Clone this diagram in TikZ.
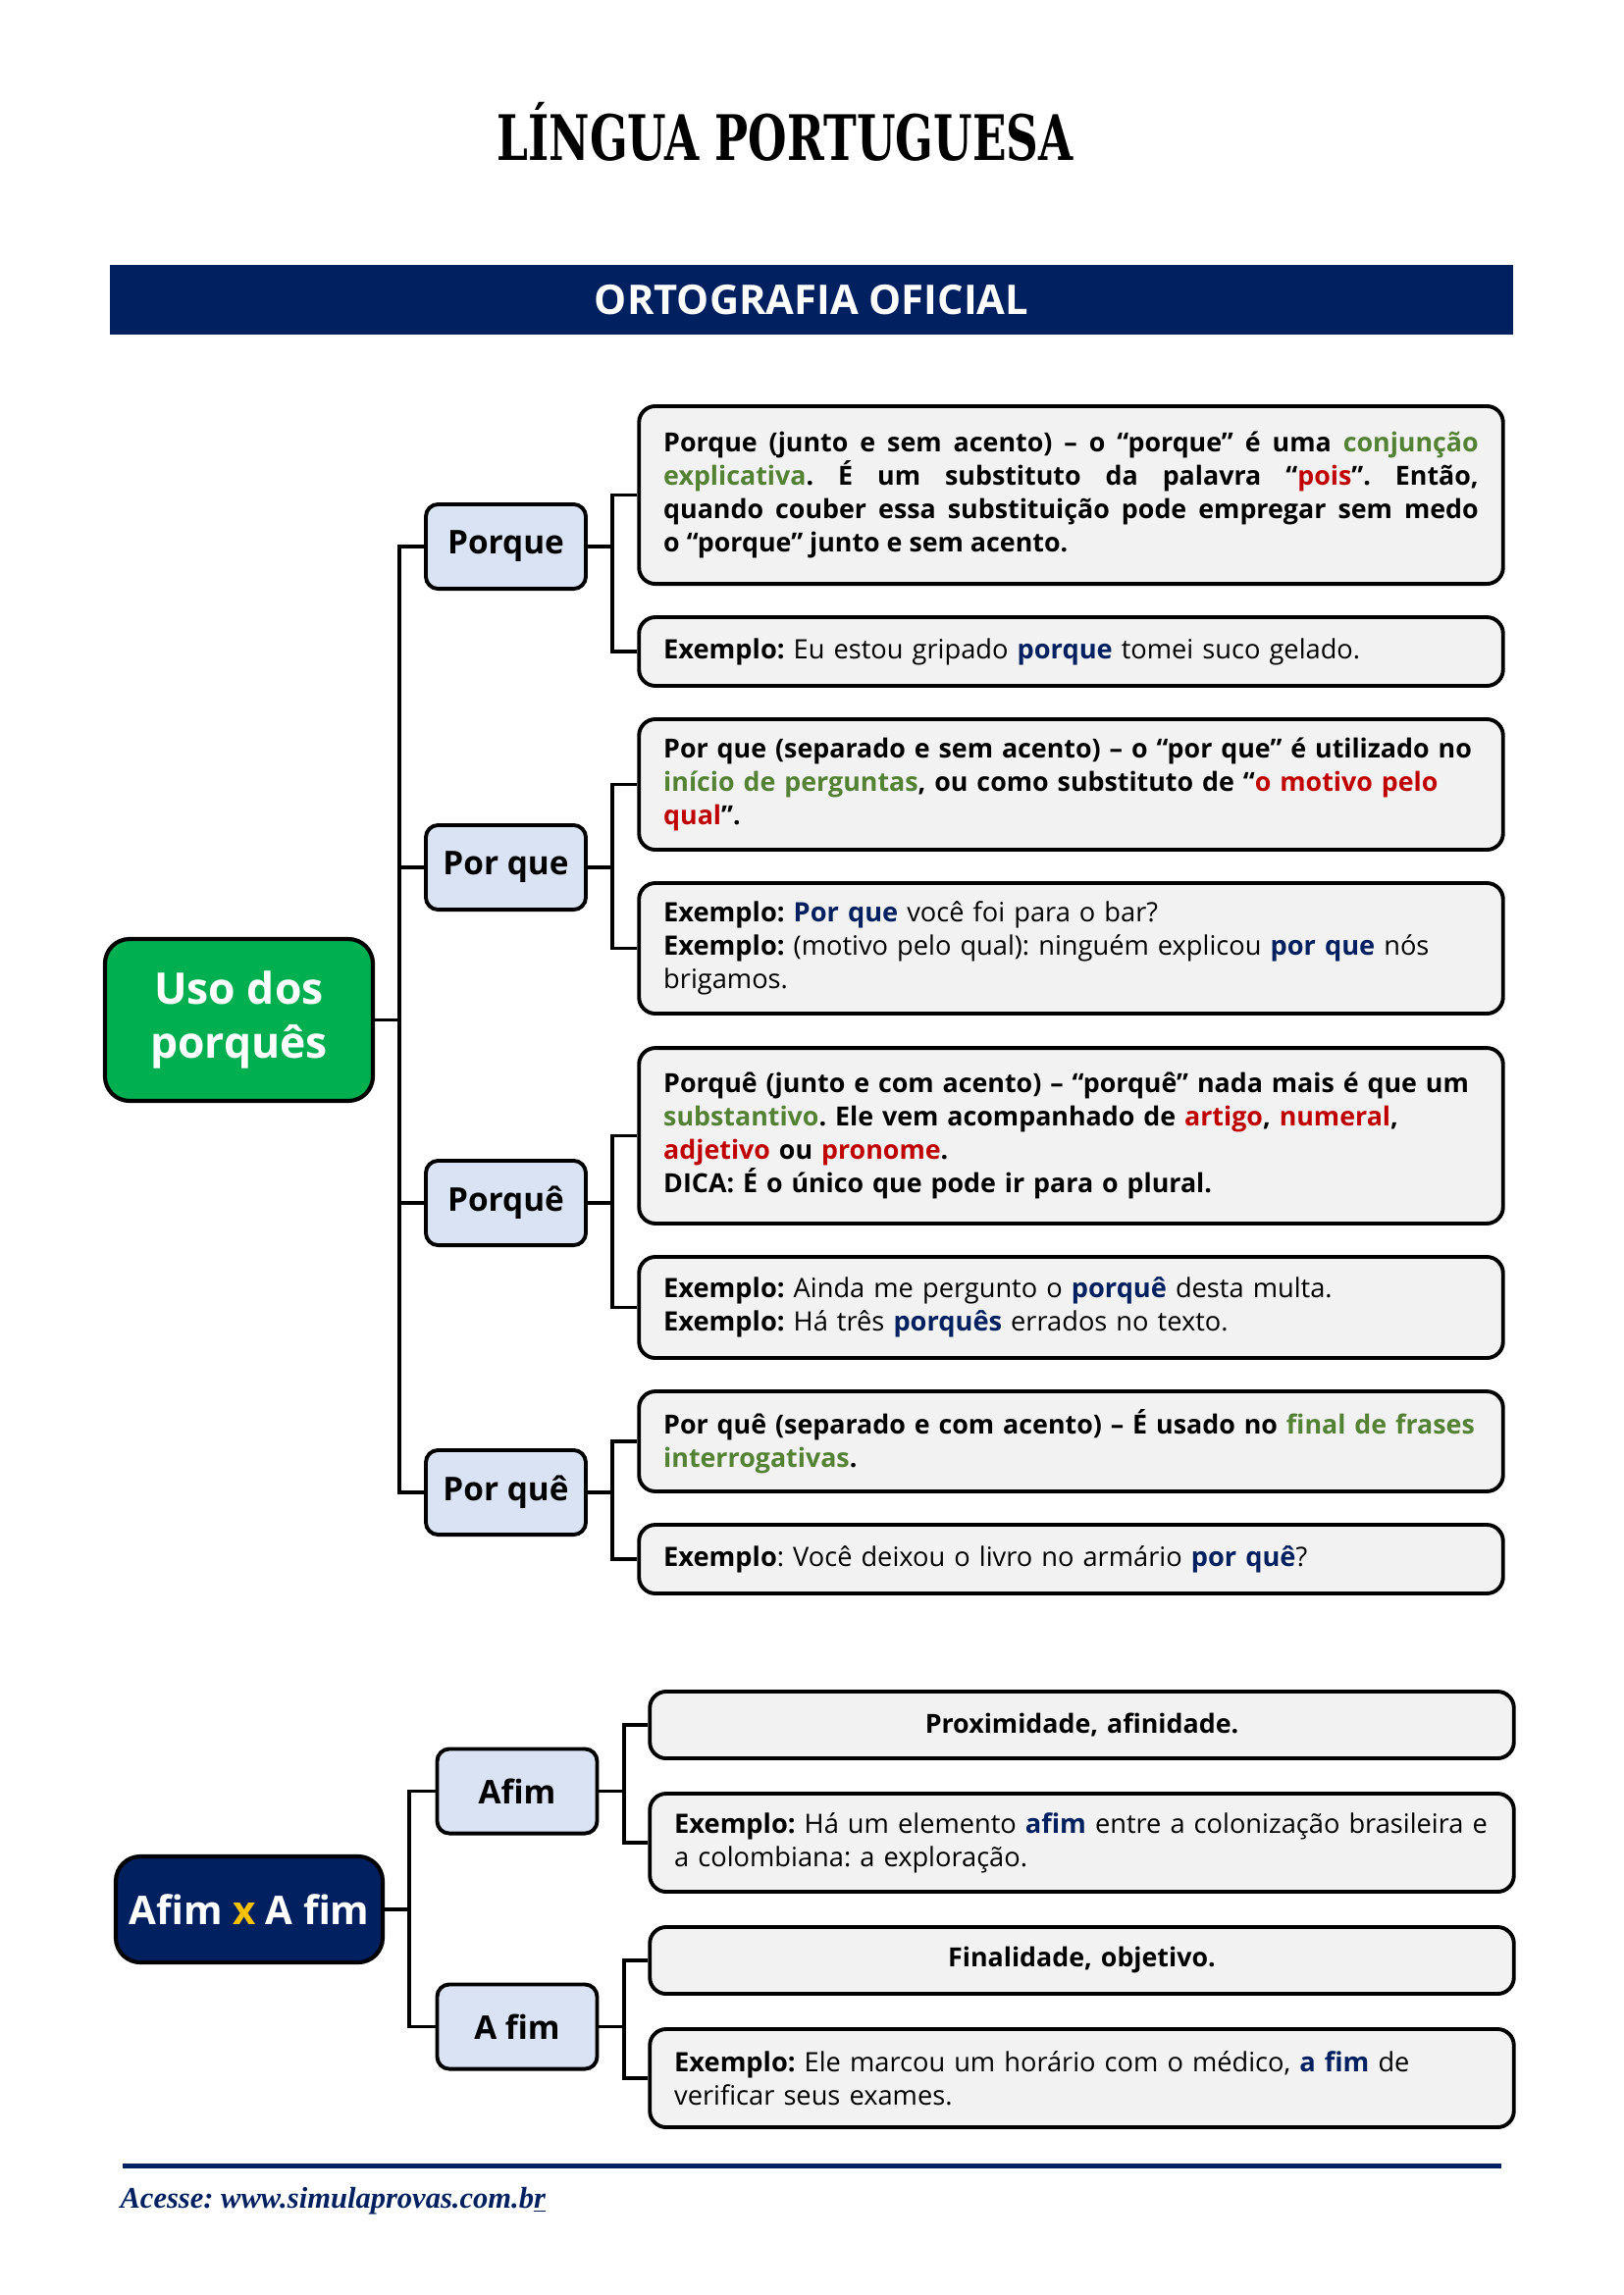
\documentclass[tikz,border=0pt]{standalone}
\usepackage{fontspec}
\setmainfont{Open Sans}
\newfontfamily\titlefont{DejaVu Serif}
\newfontfamily\footfont{Liberation Serif}
\definecolor{navy}{HTML}{002060}
\definecolor{ogreen}{HTML}{548235}
\definecolor{dred}{HTML}{C00000}
\definecolor{boxgray}{HTML}{F2F2F2}
\definecolor{lblue}{HTML}{DAE3F3}
\definecolor{mgreen}{HTML}{00B050}
\definecolor{gold}{HTML}{FFC000}
\frenchspacing
\hyphenpenalty=10000
\exhyphenpenalty=10000
\newcommand\grn[1]{\textcolor{ogreen}{#1}}
\newcommand\rdd[1]{\textcolor{dred}{#1}}
\newcommand\nvb[1]{\textcolor{navy}{\textbf{#1}}}
\newcommand\bodyfont{\fontsize{9.8}{12.2}\selectfont}
\newcommand\boldbody{\fontsize{9.65}{12.2}\selectfont\bfseries}
\tikzset{
  lthree/.style={draw=black, line width=1.4pt, fill=boxgray, rounded corners=6pt,
    text width=299pt, inner xsep=9pt, inner ysep=0pt, minimum width=317pt,
    font=\bodyfont, align=left},
  lthreeb/.style={lthree, font=\boldbody},
  ltwo/.style={draw=black, line width=1.4pt, fill=lblue, rounded corners=4.5pt,
    minimum width=58.7pt, minimum height=31pt, inner sep=0pt,
    font=\bfseries\fontsize{12}{14}\selectfont},
  rootbox/.style={draw=black, line width=1.5pt, rounded corners=9pt, inner sep=0pt,
    text=white, align=center},
  conn/.style={line width=1.1pt, black}
}
\begin{document}
\begin{tikzpicture}[x=0.36pt,y=-0.36pt]
\useasboundingbox (0,0) rectangle (1654,2339);

% title and header
\node (title) at (800,134) {\titlefont\bfseries\fontsize{23}{23}\selectfont\scalebox{0.71}[1]{LÍNGUA PORTUGUESA}};
\node[fill=navy, minimum width=514.8pt, minimum height=25.6pt, inner sep=0pt,
  text=white, font=\bfseries\fontsize{15}{18}\selectfont] (hdr) at (827,305.5) {ORTOGRAFIA OFICIAL};

% ===== tree 1 =====
\node[rootbox, fill=mgreen, minimum width=98.3pt, minimum height=59.4pt,
  font=\bfseries\fontsize{16}{19.5}\selectfont] (root1) at (243.5,1039.5) {Uso dos\\porquês};

\node[ltwo] (n1) at (515.5,557) {Porque};
\node[ltwo] (n2) at (515.5,884) {Por que};
\node[ltwo] (n3) at (515.5,1226) {Porquê};
\node[ltwo] (n4) at (515.5,1521) {Por quê};

\node[lthreeb, minimum height=65.2pt, align=justify] (b1a) at (1091.5,504.5)
 {Porque (junto e sem acento) – o “porque” é uma \grn{conjunção explicativa}. É um substituto da palavra “\rdd{pois}”. Então,\linebreak quando couber essa substituição pode empregar sem medo\linebreak o “porque” junto e sem acento.};
\node[lthree, minimum height=25.2pt] (b1b) at (1091.5,664)
 {\textbf{Exemplo:} Eu estou gripado \nvb{porque} tomei suco gelado.};

\node[lthreeb, minimum height=47.9pt] (b2a) at (1091.5,799.5)
 {Por que (separado e sem acento) – o “por que” é utilizado no\\\grn{início de perguntas}, ou como substituto de “\rdd{o motivo pelo}\\\rdd{qual}”.};
\node[lthree, minimum height=47.9pt] (b2b) at (1091.5,966.5)
 {\textbf{Exemplo:} \nvb{Por que} você foi para o bar?\\\textbf{Exemplo:} (motivo pelo qual): ninguém explicou \nvb{por que} nós brigamos.};

\node[lthreeb, minimum height=64.4pt] (b3a) at (1091.5,1157.5)
 {Porquê (junto e com acento) – “porquê” nada mais é que um\\\grn{substantivo}. Ele vem acompanhado de \rdd{artigo}, \rdd{numeral},\\\rdd{adjetivo} ou \rdd{pronome}.\\DICA: É o único que pode ir para o plural.};
\node[lthree, minimum height=37.1pt] (b3b) at (1091.5,1332.5)
 {\textbf{Exemplo:} Ainda me pergunto o \nvb{porquê} desta multa.\\\textbf{Exemplo:} Há três \nvb{porquês} errados no texto.};

\node[lthreeb, minimum height=36.7pt] (b4a) at (1091.5,1469)
 {Por quê (separado e com acento) – É usado no \grn{final de frases}\\\grn{interrogativas}.};
\node[lthree, minimum height=25.2pt] (b4b) at (1091.5,1589)
 {\textbf{Exemplo}: Você deixou o livro no armário \nvb{por quê}?};

\coordinate (t1) at (407,1039.5);
\draw[conn] (root1.east) -- (t1);
\draw[conn] (n1.west) -| (t1) |- (n4.west);
\draw[conn] (t1 |- n2.west) -- (n2.west);
\draw[conn] (t1 |- n3.west) -- (n3.west);

\coordinate (s1) at (624,557);
\coordinate (s2) at (624,884);
\coordinate (s3) at (624,1226);
\coordinate (s4) at (624,1521);
\draw[conn] (n1.east) -- (s1);
\draw[conn] (b1a.west) -| (s1) |- (b1b.west);
\draw[conn] (n2.east) -- (s2);
\draw[conn] (b2a.west) -| (s2) |- (b2b.west);
\draw[conn] (n3.east) -- (s3);
\draw[conn] (b3a.west) -| (s3) |- (b3b.west);
\draw[conn] (n4.east) -- (s4);
\draw[conn] (b4a.west) -| (s4) |- (b4b.west);

% ===== tree 2 =====
\node[rootbox, fill=navy, minimum width=97.9pt, minimum height=38.9pt,
  font=\bfseries\fontsize{14.5}{17}\selectfont] (root2) at (254,1946) {Afim \textcolor{gold}{x} A fim};

\node[ltwo] (m1) at (527,1825.5) {Afim};
\node[ltwo] (m2) at (527,2065.5) {A fim};

\node[lthreeb, minimum width=316.4pt, minimum height=24.5pt, align=center] (c1a) at (1102.5,1758)
 {Proximidade, afinidade.};
\node[lthree, minimum width=316.4pt, minimum height=36pt] (c1b) at (1102.5,1878)
 {\textbf{Exemplo:} Há um elemento \nvb{afim} entre a colonização brasileira e a colombiana: a exploração.};
\node[lthreeb, minimum width=316.4pt, minimum height=24.5pt, align=center] (c2a) at (1102.5,1998)
 {Finalidade, objetivo.};
\node[lthree, minimum width=316.4pt, minimum height=36pt] (c2b) at (1102.5,2118)
 {\textbf{Exemplo:} Ele marcou um horário com o médico, \nvb{a fim} de verificar seus exames.};

\coordinate (t2) at (417,1946);
\draw[conn] (root2.east) -- (t2);
\draw[conn] (m1.west) -| (t2) |- (m2.west);

\coordinate (r1) at (636,1825.5);
\coordinate (r2) at (636,2065.5);
\draw[conn] (m1.east) -- (r1);
\draw[conn] (c1a.west) -| (r1) |- (c1b.west);
\draw[conn] (m2.east) -- (r2);
\draw[conn] (c2a.west) -| (r2) |- (c2b.west);

% footer
\draw[navy, line width=1.8pt] (125,2207) -- (1530,2207);
\node[anchor=base west, inner sep=0pt, text=navy,
  font=\footfont\bfseries\itshape\fontsize{11}{13}\selectfont] (foot) at (122,2250)
  {Acesse: www.simulaprovas.com.b\underline{r}};
\end{tikzpicture}
\end{document}
